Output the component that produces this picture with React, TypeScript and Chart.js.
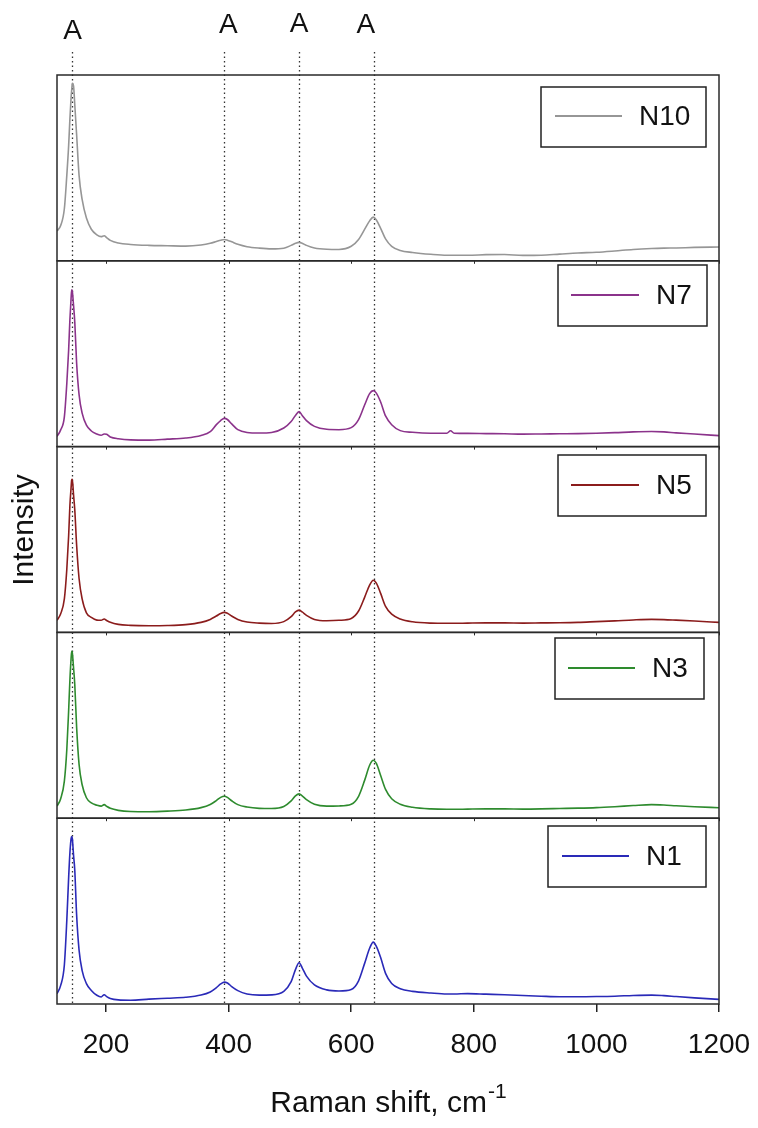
import React, { useEffect, useRef } from 'react';
import { Chart, registerables } from 'chart.js';

Chart.register(...registerables);

// ---- data ----
const ramanShift = [
  120, 126, 132, 136, 139, 141, 143, 144, 145, 147,
  149, 152, 156, 161, 168, 176, 185, 192, 197, 201,
  207, 220, 240, 270, 300, 330, 355, 370, 380, 387,
  393, 398, 405, 415, 430, 450, 470, 490, 502, 509,
  515, 520, 527, 540, 560, 580, 600, 612, 622, 630,
  636, 641, 648, 656, 666, 680, 700, 730, 756, 762,
  768, 790, 820, 850, 880, 910, 940, 970, 1000, 1030,
  1060, 1090, 1110, 1130, 1160, 1200,
];

const seriesNames = ['N10', 'N7', 'N5', 'N3', 'N1'];

const n10 = [
  16, 19, 28, 46, 62, 76, 88, 92, 95.5, 94,
  84, 68, 46, 33, 23, 17, 14, 13, 13.5, 12.5,
  11, 9.6, 8.8, 8.3, 8.1, 7.9, 8.5, 9.4, 10.4, 11.1,
  11.5, 11.1, 10.2, 8.9, 7.6, 6.8, 6.4, 6.8, 8.3, 9.4,
  9.9, 9.4, 8.3, 6.9, 6.2, 6.1, 7.8, 11.5, 17, 21.5,
  23.5, 22, 17.5, 11.8, 7.8, 5.6, 4.5, 3.5, 3.0, 3.0,
  3.0, 3.0, 3.3, 3.4, 2.9, 3.0, 3.6, 4.2, 4.6, 5.3,
  6.1, 6.6, 6.8, 6.9, 7.2, 7.4,
];

const n7 = [
  5.5, 9, 16, 34, 52, 68, 80, 84.4, 83.5, 76,
  67, 45, 28, 18, 11.5, 8.4, 6.8, 6.1, 6.8, 6.6,
  5.2, 4.2, 3.6, 3.5, 4.0, 4.6, 6.0, 8.0, 11.8, 14,
  15.2, 14.6, 12.2, 9.1, 7.6, 7.3, 7.6, 10, 13.5, 16.8,
  18.8, 16.8, 14.0, 10.9, 9.3, 9.1, 10.2, 14.5, 22.5, 28.5,
  30.1, 28.8, 24, 16.5, 11.8, 8.6, 7.7, 7.2, 7.2, 8.5,
  7.2, 7.1, 7.0, 6.9, 6.7, 6.8, 6.9, 7.0, 7.2, 7.5,
  7.9, 8.1, 7.9, 7.4, 6.8, 5.9,
];

const n5 = [
  6.5, 10, 18, 34, 52, 68, 78, 82, 82.4, 74,
  66, 47, 29, 18, 10.5, 8.1, 6.6, 6.5, 7.2, 6.4,
  5.4, 4.3, 3.8, 3.6, 3.7, 4.2, 5.4, 7.0, 8.8, 10.2,
  10.8, 10.3, 8.8, 7.0, 5.6, 5.0, 4.8, 5.8, 8.5, 11,
  12, 11, 9.2, 7.0, 6.3, 6.5, 7.5, 11.5, 19, 25.5,
  28.1, 26.5, 21, 14, 9.8, 7.2, 5.7, 5.0, 4.9, 4.9,
  4.9, 5.0, 5.1, 5.1, 5.0, 5.1, 5.2, 5.4, 5.8, 6.2,
  6.7, 7.0, 6.9, 6.6, 6.1, 5.4,
];

const n3 = [
  6.5, 10.5, 20, 37, 58, 74, 86, 89.8, 89, 81,
  72, 49, 29, 18, 11, 8.2, 7, 6.5, 7.3, 6.4,
  5.3, 4.2, 3.6, 3.5, 3.8, 4.4, 5.7, 7.4, 9.5, 11.2,
  11.8, 11.2, 9.4, 7.3, 6.0, 5.3, 5.2, 6.3, 9.3, 12,
  13.1, 12, 10, 7.5, 6.5, 6.6, 7.5, 11.8, 20.5, 28.5,
  31.2, 29.5, 23, 15.5, 10.5, 7.5, 5.9, 5.0, 4.8, 4.8,
  4.8, 4.9, 5.0, 5.0, 4.9, 5.0, 5.2, 5.4, 5.7, 6.2,
  6.8, 7.3, 7.1, 6.7, 6.2, 5.6,
];

const n1 = [
  5.5, 10, 21, 45, 68, 81, 89, 90.1, 89, 80,
  72, 48, 29, 18, 11, 7.3, 4.7, 3.8, 5.0, 4.0,
  3.0, 2.2, 2.0, 2.6, 3.1, 3.6, 4.8, 6.5, 8.8, 10.8,
  11.8, 11.3, 9.4, 7.2, 5.4, 4.8, 4.9, 6.8, 12, 18.5,
  22.2, 19.5, 15, 10.3, 7.6, 7.0, 7.8, 12.5, 22, 30,
  33.3, 31, 25, 16.5, 11, 8.2, 6.8, 5.9, 5.4, 5.4,
  5.4, 5.6, 5.3, 5.0, 4.6, 4.2, 3.9, 3.9, 4.0, 4.2,
  4.6, 4.8, 4.5, 4.0, 3.3, 2.5,
];

const seriesValues = [n10, n7, n5, n3, n1];

const xTickValues = [200, 400, 600, 800, 1000, 1200];
const xTickLabels = ['200', '400', '600', '800', '1000', '1200'];
const peakPositions = [144, 393, 515, 637];
const peakLabels = ['A', 'A', 'A', 'A'];

const xTitle = 'Raman shift, cm';
const xTitleSup = '-1';
const yTitle = 'Intensity';

// ---- styles ----
const FONT = '"Liberation Sans", Arial, Helvetica, sans-serif';
const seriesColors = ['#969696', '#8b338b', '#8b1c1c', '#2e8b2e', '#2a2ab8'];
const frameColor = '#2a2a2a';
// legend box geometry per panel (canvas pixels)
const legendBoxes = [
  { x1: 541, y1: 87, x2: 706, y2: 147, lx1: 555, lx2: 622, ly: 116, tx: 639 },
  { x1: 558, y1: 265, x2: 707, y2: 326, lx1: 571, lx2: 639, ly: 295, tx: 656 },
  { x1: 558, y1: 455, x2: 706, y2: 516, lx1: 571, lx2: 639, ly: 485, tx: 656 },
  { x1: 555, y1: 638, x2: 704, y2: 699, lx1: 568, lx2: 635, ly: 668, tx: 652 },
  { x1: 548, y1: 826, x2: 706, y2: 887, lx1: 562, lx2: 629, ly: 856, tx: 646 },
];
const peakLabelDx = [1, 4, 0, -8];
const peakLabelBaseline = [39, 33, 32, 33];

const panelAxis = () => ({
  type: 'linear',
  position: 'left',
  stack: 'panels',
  stackWeight: 1,
  min: 0,
  max: 100,
  ticks: { display: false },
  grid: { display: false, drawTicks: false },
  border: { display: false },
  afterFit: (s: any) => {
    s.width = 57;
  },
});

const decorPlugin = {
  id: 'decor',
  beforeDatasetsDraw(chart: any) {
    const ctx = chart.ctx;
    const xs = chart.scales.x;
    const area = chart.chartArea;
    ctx.save();
    ctx.strokeStyle = '#333';
    ctx.lineWidth = 1.3;
    ctx.setLineDash([1.5, 3]);
    peakPositions.forEach((p) => {
      const x = Math.round(xs.getPixelForValue(p)) + 0.5;
      ctx.beginPath();
      ctx.moveTo(x, 52);
      ctx.lineTo(x, area.bottom);
      ctx.stroke();
    });
    ctx.restore();
  },
  afterDraw(chart: any) {
    const ctx = chart.ctx;
    const xs = chart.scales.x;
    const area = chart.chartArea;
    ctx.save();

    // panel frames
    ctx.strokeStyle = frameColor;
    ctx.lineWidth = 1.5;
    seriesNames.forEach((name, i) => {
      const s = chart.scales['y' + name];
      ctx.strokeRect(area.left, s.top, area.right - area.left, s.bottom - s.top);
      if (i < seriesNames.length - 1) {
        ctx.lineWidth = 1;
        xTickValues.forEach((v) => {
          const x = Math.round(xs.getPixelForValue(v)) + 0.5;
          ctx.beginPath();
          ctx.moveTo(x, s.bottom);
          ctx.lineTo(x, s.bottom + 3);
          ctx.stroke();
        });
        ctx.lineWidth = 1.5;
      }
    });

    // legend boxes
    seriesNames.forEach((name, i) => {
      const b = legendBoxes[i];
      ctx.fillStyle = '#fff';
      ctx.fillRect(b.x1, b.y1, b.x2 - b.x1, b.y2 - b.y1);
      ctx.strokeStyle = '#222';
      ctx.lineWidth = 1.5;
      ctx.strokeRect(b.x1, b.y1, b.x2 - b.x1, b.y2 - b.y1);
      ctx.strokeStyle = seriesColors[i];
      ctx.lineWidth = 2;
      ctx.beginPath();
      ctx.moveTo(b.lx1, b.ly);
      ctx.lineTo(b.lx2, b.ly);
      ctx.stroke();
      ctx.fillStyle = '#111';
      ctx.font = `28px ${FONT}`;
      ctx.textAlign = 'left';
      ctx.textBaseline = 'middle';
      ctx.fillText(name, b.tx, b.ly + 1);
    });

    // peak labels
    ctx.fillStyle = '#111';
    ctx.font = `28px ${FONT}`;
    ctx.textAlign = 'center';
    ctx.textBaseline = 'alphabetic';
    peakPositions.forEach((p, i) => {
      const x = xs.getPixelForValue(p) + peakLabelDx[i];
      ctx.fillText(peakLabels[i], x, peakLabelBaseline[i]);
    });

    // x title with superscript
    ctx.font = `30px ${FONT}`;
    const w1 = ctx.measureText(xTitle).width;
    ctx.font = `21px ${FONT}`;
    const w2 = ctx.measureText(xTitleSup).width;
    const cx = (area.left + area.right) / 2;
    const startX = cx - (w1 + w2) / 2;
    ctx.textAlign = 'left';
    ctx.font = `30px ${FONT}`;
    ctx.fillText(xTitle, startX, 1112);
    ctx.font = `21px ${FONT}`;
    ctx.fillText(xTitleSup, startX + w1 + 1, 1098);

    // y title
    ctx.translate(25, 530);
    ctx.rotate(-Math.PI / 2);
    ctx.font = `30px ${FONT}`;
    ctx.textAlign = 'center';
    ctx.textBaseline = 'middle';
    ctx.fillText(yTitle, 0, 0);

    ctx.restore();
  },
};

export default function App() {
  const canvasRef = useRef<HTMLCanvasElement | null>(null);

  useEffect(() => {
    const canvas = canvasRef.current;
    if (!canvas) return;

    const scales: any = {
      x: {
        type: 'linear',
        position: 'bottom',
        min: 120,
        max: 1200,
        afterBuildTicks: (s: any) => {
          s.ticks = xTickValues.map((v) => ({ value: v }));
        },
        ticks: {
          font: { family: FONT, size: 28 },
          color: '#111',
          padding: 16,
          maxRotation: 0,
          autoSkip: false,
          callback: (v: any) => {
            const i = xTickValues.indexOf(Number(v));
            return i >= 0 ? xTickLabels[i] : '';
          },
        },
        grid: {
          drawOnChartArea: false,
          drawTicks: true,
          tickLength: 8,
          color: '#222',
          lineWidth: 1.5,
        },
        border: { display: false },
        afterFit: (s: any) => {
          s.height = 124;
          s.paddingLeft = 0;
          s.paddingRight = 0;
        },
      },
    };
    // bottom panel first so that the top panel is placed first by the stacked layout
    [...seriesNames].reverse().forEach((name) => {
      scales['y' + name] = panelAxis();
    });

    const chart = new Chart(canvas, {
      type: 'line',
      data: {
        datasets: seriesNames.map((name, i) => ({
          label: name,
          data: ramanShift.map((x, j) => ({ x, y: seriesValues[i][j] })),
          yAxisID: 'y' + name,
          borderColor: seriesColors[i],
          backgroundColor: seriesColors[i],
          borderWidth: 1.6,
          pointRadius: 0,
          fill: false,
          cubicInterpolationMode: 'monotone',
        })),
      },
      options: {
        animation: false,
        responsive: false,
        devicePixelRatio: 1,
        layout: { padding: { top: 75, right: 39, left: 0, bottom: 0 } },
        plugins: {
          legend: { display: false },
          tooltip: { enabled: false },
        },
        scales,
      },
      plugins: [decorPlugin],
    } as any);

    return () => chart.destroy();
  }, []);

  return (
    <div style={{ position: 'absolute', left: 0, top: 0, width: 758, height: 1128, background: '#fff' }}>
      <canvas ref={canvasRef} width={758} height={1128} style={{ width: 758, height: 1128, display: 'block' }} />
    </div>
  );
}
